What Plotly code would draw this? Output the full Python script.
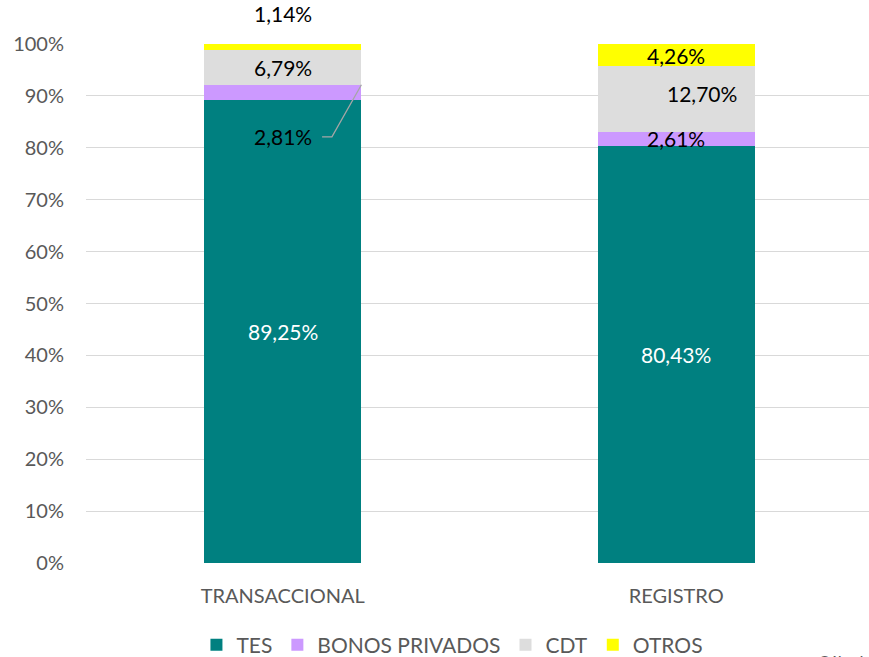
import plotly.graph_objects as go

categories = ["TRANSACCIONAL", "REGISTRO"]
series_names = ["TES", "BONOS PRIVADOS", "CDT", "OTROS"]
tes = [89.25, 80.43]
bonos = [2.81, 2.61]
cdt = [6.79, 12.70]
otros = [1.14, 4.26]
y_ticks = [0, 10, 20, 30, 40, 50, 60, 70, 80, 90, 100]
y_tick_labels = [f"{v}%" for v in y_ticks]

colors = ["#008080", "#CC99FF", "#DDDDDD", "#FFFF00"]
values = [tes, bonos, cdt, otros]
FONT = "Lato, Carlito, Calibri, sans-serif"

fig = go.Figure()
xs = [0, 1]
for name, vals, col in zip(series_names, values, colors):
    fig.add_trace(go.Bar(x=xs, y=vals, name=name, marker=dict(color=col, line=dict(width=0)),
                         width=0.40, hoverinfo="skip"))

def fmt(v):
    return f"{v:.2f}".replace(".", ",") + "%"

annotations = []
for i in range(2):
    base = 0
    for k, vals in enumerate(values):
        v = vals[i]
        mid = base + v / 2
        x = i
        y = mid / 100
        color = "white" if k == 0 else "black"
        xshift = 0
        yshift = 0
        if k == 1 and i == 0:
            y = 0.821
        if k == 3 and i == 0:
            y = 1.058
        if k == 2 and i == 1:
            xshift = 26
            yshift = 6
        annotations.append(dict(x=x, y=y, xref="x", yref="paper", text=fmt(v), showarrow=False,
                                xanchor="center", yanchor="middle",
                                xshift=xshift, yshift=yshift,
                                font=dict(family=FONT, size=21, color=color)))
        base += v

annotations.append(dict(x=0.932, y=-0.168, xref="paper", yref="paper", text="Cálculos propios",
                        showarrow=False, xanchor="left", yanchor="top",
                        font=dict(family=FONT, size=17, color="#595959")))

# leader line for the small BONOS label on TRANSACCIONAL
lead_y_label = 82.1
lead_y_end = tes[0] + bonos[0] / 2
fig.add_shape(type="path", xref="x", yref="y",
              path=f"M 0.10 {lead_y_label} L 0.125 {lead_y_label} L 0.20 {lead_y_end + 1.5}",
              line=dict(color="#A6A6A6", width=1.3))

fig.update_layout(
    barmode="stack",
    width=869, height=657,
    margin=dict(l=86, r=0, t=44, b=94, autoexpand=False),
    paper_bgcolor="white", plot_bgcolor="white",
    annotations=annotations,
    showlegend=True,
    legend=dict(orientation="h", x=0.468, xanchor="center", y=-0.158, yanchor="middle",
                font=dict(family=FONT, size=21, color="#595959"),
                itemsizing="constant", traceorder="normal"),
    xaxis=dict(range=[-0.5, 1.49], tickvals=xs, ticktext=categories, showgrid=False,
               zeroline=False, showline=False, ticks="",
               tickfont=dict(family=FONT, size=20, color="#595959"), ticklabelstandoff=19),
    yaxis=dict(range=[0, 100], tickvals=y_ticks, ticktext=y_tick_labels, showgrid=True,
               gridcolor="#D9D9D9", gridwidth=1, zeroline=False, showline=False, ticks="",
               tickfont=dict(family=FONT, size=20, color="#595959"), ticklabelstandoff=21),
)

fig.write_html("out.html", config={"displayModeBar": False},
               post_script="document.body.style.margin='0';document.body.style.overflow='hidden';")
